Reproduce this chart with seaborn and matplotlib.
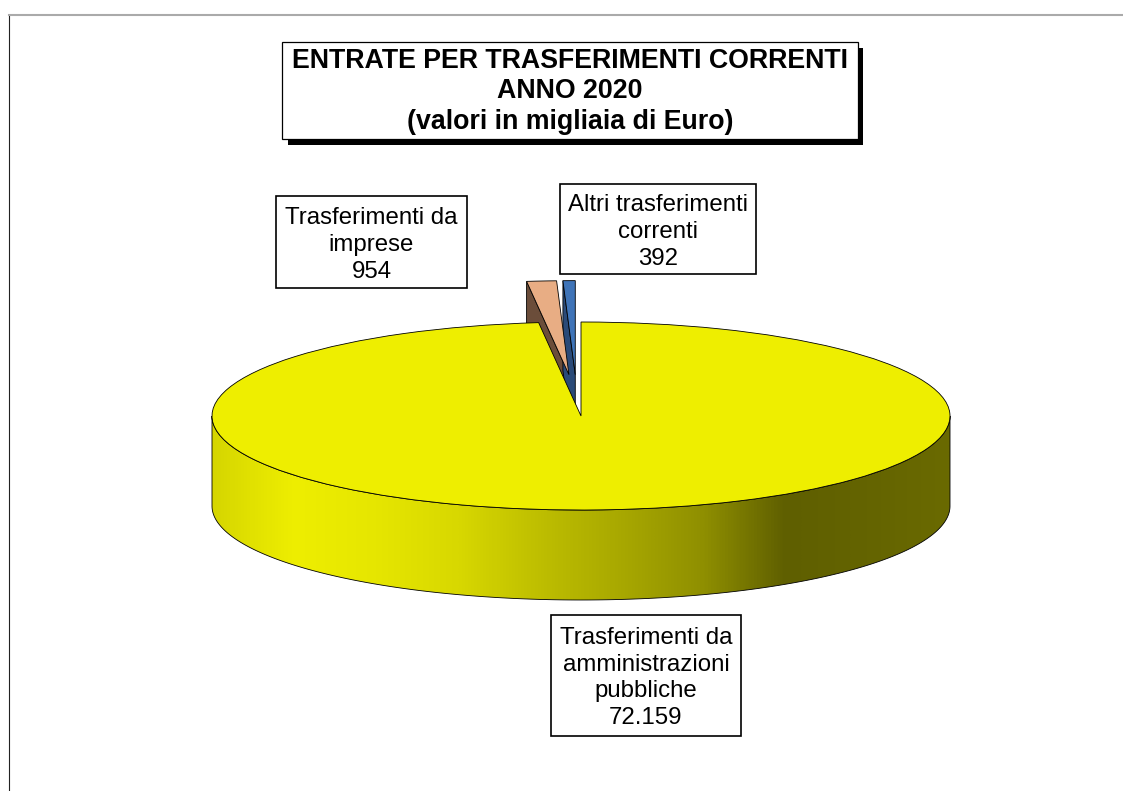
import numpy as np
import matplotlib
matplotlib.use("Agg")
import matplotlib.pyplot as plt
from matplotlib.patches import Polygon, Rectangle
import seaborn as sns

voci = ["Trasferimenti da\namministrazioni\npubbliche", "Trasferimenti da\nimprese", "Altri trasferimenti\ncorrenti"]
valori = [72159, 954, 392]
colori = ["#eeee00", "#e8ad84", "#3f74b8"]
colori_lato = ["#eeee00", "#6b4d3a", "#2a4a78"]
stacco = [0, 0.44, 0.44]
titolo = "ENTRATE PER TRASFERIMENTI CORRENTI\nANNO 2020\n(valori in migliaia di Euro)"

W, H = 1123, 791
cx, cy, rx, ry = 581, 416, 369, 94
spessore = 90 / ry

sns.set_theme(style="white")
plt.rcParams["font.family"] = ["Liberation Sans", "DejaVu Sans"]


def fx(x):
    return x / W


def fy(y):
    return 1 - y / H


def riquadro(x0, y0, x1, y1, testo, size, bold=False, lw=1.2, yt=None, interl=1.29):
    fig.add_artist(Rectangle((fx(x0), fy(y1)), (x1 - x0) / W, (y1 - y0) / H, transform=fig.transFigure,
                             facecolor="white", edgecolor="black", lw=lw, zorder=5))
    fig.text(fx((x0 + x1) / 2), fy((y0 + y1) / 2 if yt is None else yt), testo, ha="center", va="center",
             multialignment="center", fontsize=size, color="black", fontweight="bold" if bold else "normal",
             linespacing=interl, zorder=6)


fig = plt.figure(figsize=(W / 100, H / 100), dpi=100)
ax = fig.add_axes([9 / W, 0, (W - 9) / W, (H - 15) / H])

wedges, _ = ax.pie(valori, colors=colori, explode=stacco, startangle=90, counterclock=False,
                   wedgeprops={"edgecolor": "black", "linewidth": 0.6})
ax.set_aspect("auto")

# la fetta blu sta un po' piu a sinistra
xb, yb = wedges[2].center
wedges[2].set_center((xb - 3 / rx, yb))

# facce di taglio delle due fette staccate
for w, c in zip(wedges[1:], colori_lato[1:]):
    a = np.deg2rad(w.theta2)
    x0, y0 = w.center
    xr, yr = x0 + np.cos(a), y0 + np.sin(a)
    ax.add_patch(Polygon([(xr, yr), (x0, y0), (x0, y0 - spessore), (xr, yr - spessore)], closed=True,
                         facecolor=c, edgecolor="black", lw=0.6, zorder=1))
    w.set_zorder(2)
wedges[0].set_zorder(4)

# lato del disco con sfumatura
t = np.linspace(np.pi, 2 * np.pi, 300)
bordo = np.r_[np.c_[np.cos(t), np.sin(t)], np.c_[np.cos(t[::-1]), np.sin(t[::-1]) - spessore]]
lato = Polygon(bordo, closed=True, facecolor="none", edgecolor="black", lw=0.6, zorder=3.5)
ax.add_patch(lato)
sfumatura = sns.blend_palette(["#d6d600", "#eeee00", "#e6e600", "#d8d800", "#bebe00", "#a8a800", "#8f8f00",
                               "#5f5f00", "#646400", "#6a6a00"], as_cmap=True)
img = ax.imshow(np.linspace(0, 1, 512)[None, :], cmap=sfumatura, aspect="auto", zorder=3,
                extent=(-1, 1, -1 - spessore, 0))
img.set_clip_path(lato)

ax.set_xlim((9 - cx) / rx, (W - cx) / rx)
ax.set_ylim((cy - H) / ry, (cy - 15) / ry)
ax.set_frame_on(True)
sns.despine(ax=ax, top=False, right=True, left=False, bottom=True)
ax.spines["top"].set_color("#aaaaaa")
ax.spines["top"].set_linewidth(1.5)
ax.spines["left"].set_color("#222222")
ax.spines["left"].set_linewidth(0.8)

# riquadro del titolo con ombra
fig.add_artist(Rectangle((fx(288), fy(145)), 575 / W, 97 / H, transform=fig.transFigure,
                         facecolor="black", edgecolor="black", lw=0, zorder=4))
riquadro(282, 42, 858, 139, titolo, 19.3, bold=True, lw=0.9, yt=91.5, interl=1.22)


def etichetta(i):
    return voci[i] + "\n" + f"{valori[i]:,}".replace(",", ".")


riquadro(276, 196, 467, 288, etichetta(1), 17.3, yt=245)
riquadro(560, 184, 756, 274, etichetta(2), 17.3, yt=232)
riquadro(551, 615, 741, 736, etichetta(0), 17.3, yt=678)

fig.savefig("out.png", dpi=100)
